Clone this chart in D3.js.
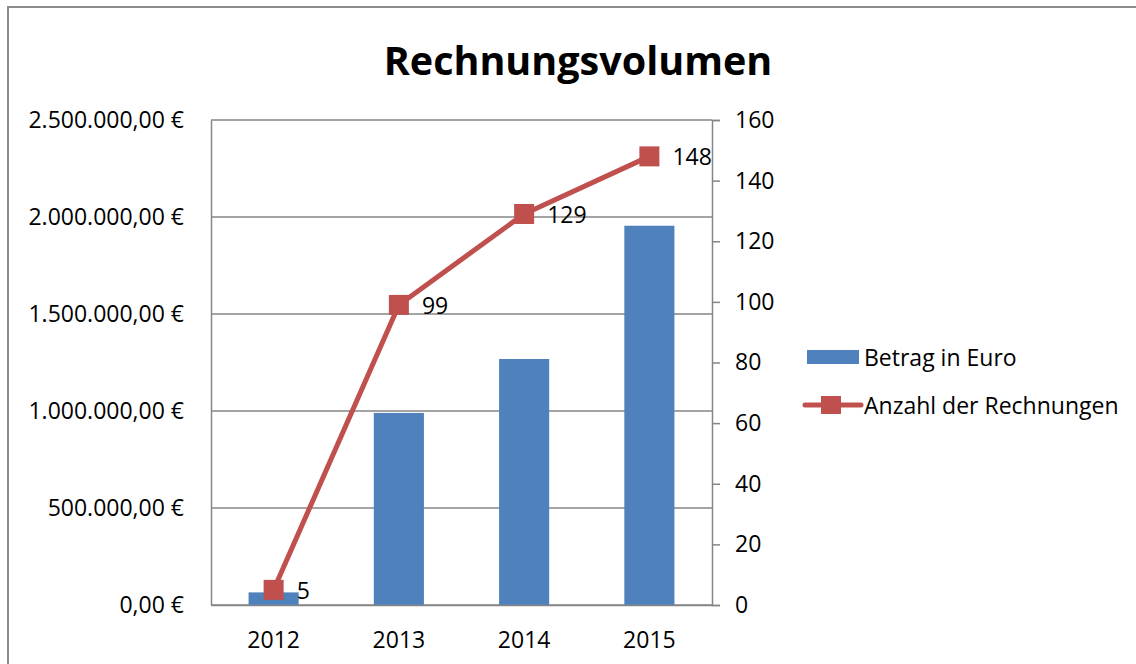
<!DOCTYPE html>
<html>
<head>
<meta charset="utf-8">
<script src="https://cdn.jsdelivr.net/npm/d3@7"></script>
<style>
  body { margin: 0; background: #fff; }
  text { font-family: "Open Sans", sans-serif; fill: #000; }
</style>
</head>
<body>
<div id="chart"></div>
<script>
// Data
const years = ["2012", "2013", "2014", "2015"];
const betrag = [65000, 990000, 1268000, 1955000];
const anzahl = [5, 99, 129, 148];
const leftTicks = [0, 500000, 1000000, 1500000, 2000000, 2500000];
const rightTicks = [0, 20, 40, 60, 80, 100, 120, 140, 160];
const seriesNames = ["Betrag in Euro", "Anzahl der Rechnungen"];

const W = 1136, H = 664;
const plot = { left: 211, right: 712, top: 120, bottom: 605 };
const blue = "#4F81BD", red = "#C0504D", grid = "#868686";
const fs = "23px";

const svg = d3.select("#chart")
    .append("svg")
    .attr("width", W)
    .attr("height", H);

// Outer frame
svg.append("rect")
    .attr("x", 8).attr("y", 7)
    .attr("width", W + 20).attr("height", H + 20)
    .attr("fill", "white")
    .attr("stroke", "#8c8c8c")
    .attr("stroke-width", 2);

// Title
svg.append("text")
    .attr("x", 578).attr("y", 60)
    .attr("text-anchor", "middle")
    .attr("dominant-baseline", "central")
    .style("font-size", "39.5px")
    .style("font-weight", "bold")
    .text("Rechnungsvolumen");

// Scales
const x = d3.scaleBand().domain(years)
    .range([plot.left, plot.right])
    .paddingInner(0.6).paddingOuter(0.3);
const y = d3.scaleLinear().domain([0, 2500000]).range([plot.bottom, plot.top]);
const y2 = d3.scaleLinear().domain([0, 160]).range([plot.bottom, plot.top]);

const de = d3.formatLocale({ decimal: ",", thousands: ".", grouping: [3], currency: ["", " €"] });
const euro = de.format(",.2f");

// Gridlines
svg.append("g")
    .selectAll("line")
    .data(leftTicks)
    .join("line")
    .attr("x1", plot.left).attr("x2", plot.right)
    .attr("y1", d => y(d)).attr("y2", d => y(d))
    .attr("stroke", grid)
    .attr("stroke-width", 1.5);

// Left axis
const leftAxis = svg.append("g")
    .attr("transform", `translate(${plot.left},0)`)
    .call(d3.axisLeft(y).tickValues(leftTicks).tickSize(0).tickPadding(27)
        .tickFormat(d => euro(d) + " €"));
leftAxis.select(".domain").attr("stroke", grid).attr("stroke-width", 1.5);
leftAxis.selectAll("text").style("font-size", fs).attr("font-family", null);

// Right axis
const rightAxis = svg.append("g")
    .attr("transform", `translate(${plot.right},0)`)
    .call(d3.axisRight(y2).tickValues(rightTicks).tickSize(8).tickSizeOuter(8).tickPadding(15));
rightAxis.select(".domain").attr("stroke", grid).attr("stroke-width", 1.5);
rightAxis.selectAll(".tick line").attr("stroke", grid).attr("stroke-width", 1.5);
rightAxis.selectAll("text").style("font-size", fs).attr("font-family", null);

// Bars
svg.append("g")
    .selectAll("rect")
    .data(years)
    .join("rect")
    .attr("x", d => x(d))
    .attr("y", (d, i) => y(betrag[i]))
    .attr("width", x.bandwidth())
    .attr("height", (d, i) => y(0) - y(betrag[i]))
    .attr("fill", blue);

// Bottom axis
const bottomAxis = svg.append("g")
    .attr("transform", `translate(0,${plot.bottom})`)
    .call(d3.axisBottom(x).tickSize(0).tickPadding(27));
bottomAxis.select(".domain").attr("stroke", grid).attr("stroke-width", 1.5);
bottomAxis.selectAll("text").style("font-size", fs).attr("font-family", null);

// Line series
const cx = d => x(d) + x.bandwidth() / 2;
const line = d3.line()
    .x((d, i) => cx(years[i]))
    .y(d => y2(d));

svg.append("path")
    .datum(anzahl)
    .attr("d", line)
    .attr("fill", "none")
    .attr("stroke", red)
    .attr("stroke-width", 5)
    .attr("stroke-linejoin", "round");

svg.append("g")
    .selectAll("rect")
    .data(anzahl)
    .join("rect")
    .attr("x", (d, i) => cx(years[i]) - 10)
    .attr("y", d => y2(d) - 10)
    .attr("width", 20).attr("height", 20)
    .attr("fill", red);

svg.append("g")
    .selectAll("text")
    .data(anzahl)
    .join("text")
    .attr("x", (d, i) => cx(years[i]) + 23)
    .attr("y", d => y2(d))
    .attr("dominant-baseline", "central")
    .style("font-size", fs)
    .text(d => d);

// Legend
const legend = svg.append("g");
legend.append("rect")
    .attr("x", 807).attr("y", 350)
    .attr("width", 52).attr("height", 14)
    .attr("fill", blue);
legend.append("text")
    .attr("x", 864).attr("y", 357)
    .attr("dominant-baseline", "central")
    .style("font-size", fs)
    .text(seriesNames[0]);

legend.append("line")
    .attr("x1", 805).attr("x2", 861)
    .attr("y1", 405).attr("y2", 405)
    .attr("stroke", red).attr("stroke-width", 5)
    .attr("stroke-linecap", "round");
legend.append("rect")
    .attr("x", 821).attr("y", 396)
    .attr("width", 20).attr("height", 18)
    .attr("fill", red);
legend.append("text")
    .attr("x", 864).attr("y", 405)
    .attr("dominant-baseline", "central")
    .style("font-size", fs)
    .text(seriesNames[1]);
</script>
</body>
</html>
